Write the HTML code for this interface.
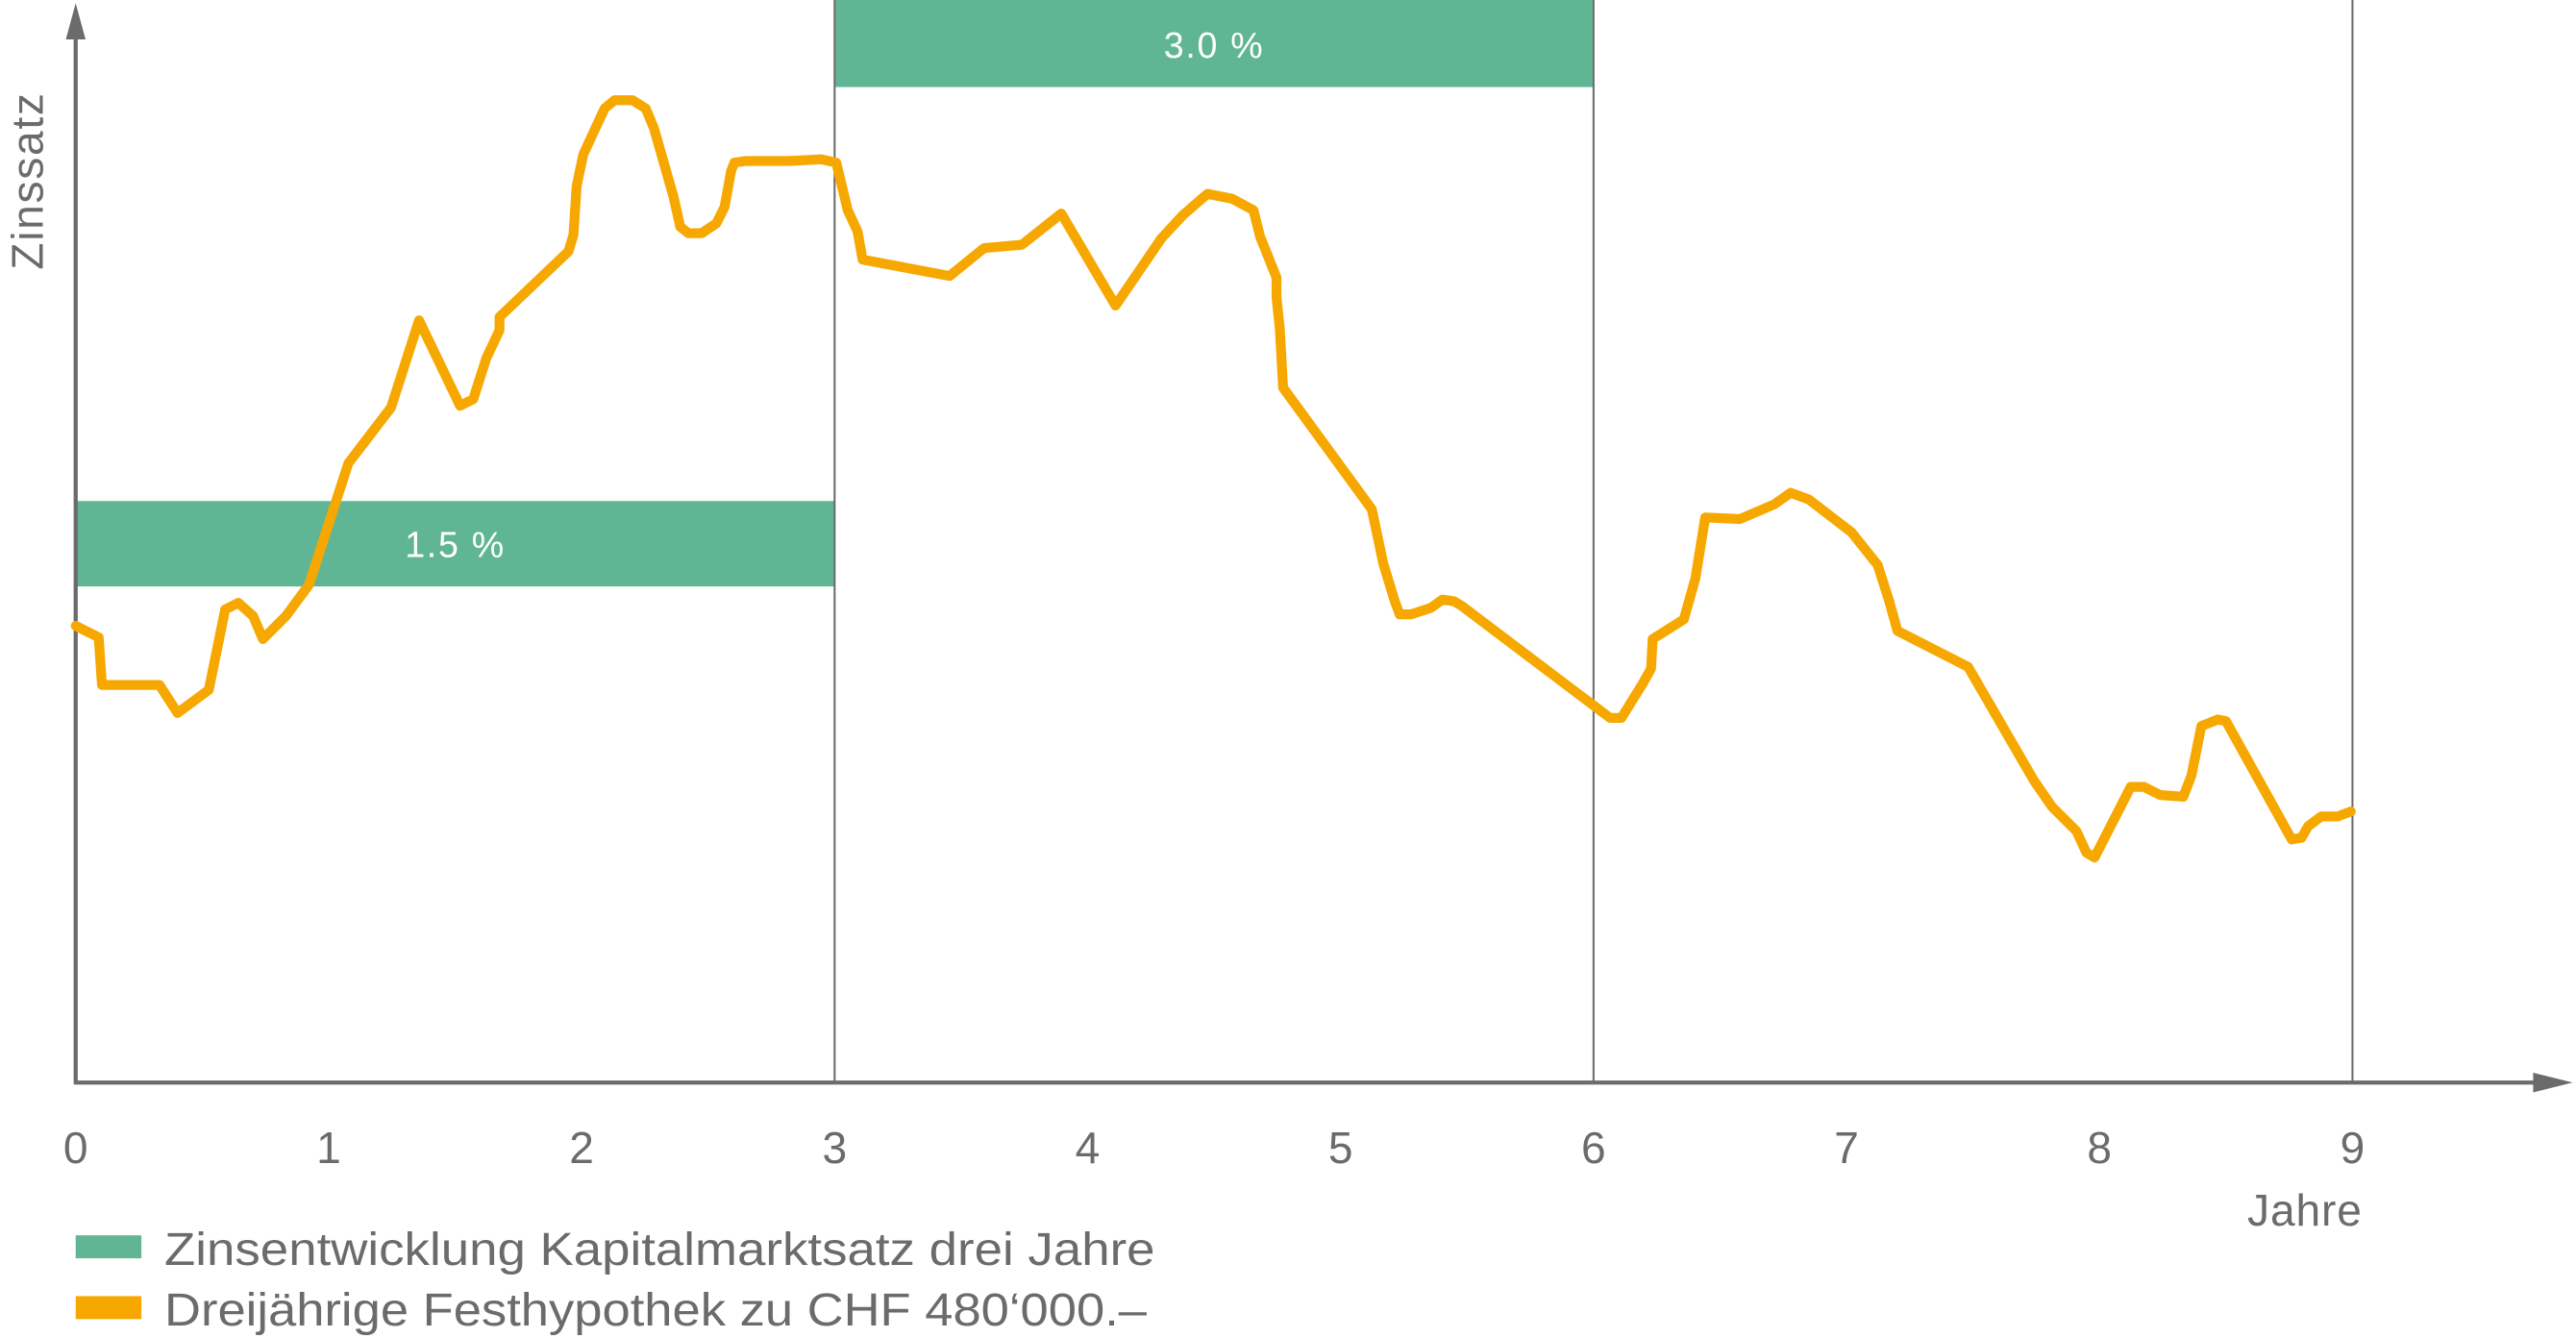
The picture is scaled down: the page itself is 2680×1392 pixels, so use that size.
<!DOCTYPE html>
<html><head><meta charset="utf-8"><style>
html,body{margin:0;padding:0;background:#fff;}
svg{display:block;}
text{font-family:"Liberation Sans",sans-serif;fill:#6b6b6b;}
</style></head><body>
<svg width="2680" height="1392" viewBox="0 0 1568 814.5" xmlns="http://www.w3.org/2000/svg">
<rect width="1568" height="815" fill="#fff"/>
<rect x="46" y="305" width="462" height="52" fill="#60b694"/>
<rect x="508" y="0" width="462" height="53" fill="#60b694"/>
<text x="277" y="339" font-size="22" letter-spacing="1" text-anchor="middle" style="fill:#fff">1.5 %</text>
<text x="739" y="35" font-size="22" letter-spacing="1" text-anchor="middle" style="fill:#fff">3.0 %</text>
<g stroke="#6b6b6b" stroke-width="1.2">
<line x1="508" y1="0" x2="508" y2="659"/>
<line x1="970" y1="0" x2="970" y2="659"/>
<line x1="1432" y1="0" x2="1432" y2="659"/>
</g>
<g stroke="#6b6b6b" stroke-width="2.5">
<line x1="46" y1="14" x2="46" y2="660"/>
<line x1="45" y1="659" x2="1548" y2="659"/>
</g>
<polygon points="46,2 40,24 52,24" fill="#6b6b6b"/>
<polygon points="1566,659 1542,653 1542,665" fill="#6b6b6b"/>
<polyline fill="none" stroke="#f7a800" stroke-width="6" stroke-linejoin="round" stroke-linecap="round" points="46,381 60,388 62,417 97,417 108,434 127,420 137,371 145,367 154,375 160,389 174,375 188,356 212,282 238,248 255,195 280,247 288,243 296,218 304,201 304,193 346,153 349,143 351,113 355,94 368,66 374,61 385,61 393,66 398,78 410,120 414,138 419,142 427,142 436,136 441,126 445,104 447,99 454,98 480,98 500,97 509,99 516,128 522,141 525,158 578,168 599,151 622,149 646,130 679,186 707,145 720,131 735,118 750,121 763,128 767,144 777,169 777,181 779,200 781,236 835,310 842,343 849,366 852,374 859,374 871,370 878,365 885,366 890,369 980,437 987,437 1000,416 1005,407 1006,389 1025,377 1032,352 1038,315 1059,316 1080,307 1090,300 1101,304 1127,324 1143,344 1150,366 1155,384 1198,406 1238,475 1249,491 1264,506 1270,519 1275,522 1297,479 1305,479 1315,484 1329,485 1334,472 1340,442 1350,438 1355,439 1395,511 1401,510 1405,503 1413,497 1423,497 1431,494"/>
<g font-size="27" text-anchor="middle">
<text x="46" y="708">0</text><text x="200" y="708">1</text><text x="354" y="708">2</text>
<text x="508" y="708">3</text><text x="662" y="708">4</text><text x="816" y="708">5</text>
<text x="970" y="708">6</text><text x="1124" y="708">7</text><text x="1278" y="708">8</text>
<text x="1432" y="708">9</text>
</g>
<text x="1403" y="746" font-size="27" letter-spacing="0.5" text-anchor="middle">Jahre</text>
<text transform="translate(26,110) rotate(-90)" font-size="27" letter-spacing="1" text-anchor="middle">Zinssatz</text>
<rect x="46" y="752" width="40" height="14" fill="#60b694"/>
<rect x="46" y="789" width="40" height="14" fill="#f7a800"/>
<text x="100" y="770" font-size="28" textLength="603" lengthAdjust="spacingAndGlyphs">Zinsentwicklung Kapitalmarktsatz drei Jahre</text>
<text x="100" y="807" font-size="28" textLength="598" lengthAdjust="spacingAndGlyphs">Dreijährige Festhypothek zu CHF 480‘000.–</text>
</svg>
</body></html>
